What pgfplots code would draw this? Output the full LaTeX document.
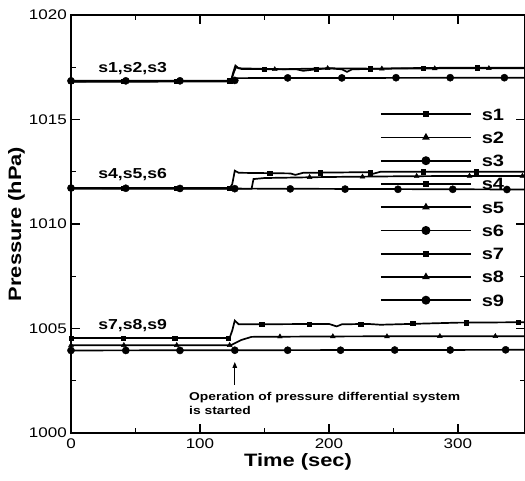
\documentclass[border=0pt]{standalone}
\usepackage{fontspec}
\setmainfont{Liberation Sans}[FakeStretch=1.22]
\usepackage{pgfplots}
\pgfplotsset{compat=1.18}
\usetikzlibrary{arrows.meta}
\begin{document}
\begin{tikzpicture}
\begin{axis}[
 scale only axis, width=454bp, height=418bp,
 xmin=0, xmax=352, ymin=1000, ymax=1020,
 xtick={0,100,200,300}, ytick={1000,1005,1010,1015,1020},
 minor x tick num=1, minor y tick num=1,
 tick align=inside,
 major tick length=9bp, minor tick length=5bp,
 every tick/.style={black, line width=1.2bp},
 axis line style={line width=1.7bp},
 /pgf/number format/assume math mode=true,
 /pgf/number format/1000 sep={},
 ticklabel style={font=\fontsize{14}{14}\selectfont, inner sep=0pt},
 yticklabel style={xshift=-4bp},
 xticklabel style={yshift=-6bp},
 every axis x label/.style={at={([yshift=-33bp]axis description cs:0.5,0)}, anchor=base, font=\fontsize{18}{18}\selectfont\bfseries},
 every axis y label/.style={at={([xshift=-46bp]axis description cs:0,0.5)}, rotate=90, anchor=south, inner sep=0pt, font=\fontsize{18}{18}\selectfont\bfseries},
 xlabel={Time (sec)}, ylabel={Pressure (hPa)},
 legend cell align=left,
 legend style={at={(axis cs:239.5,1015.55)}, anchor=north west, draw=none, fill=none, inner sep=0pt,
   row sep=11.25bp, column sep=10bp, font=\fontsize{16.5}{16.5}\selectfont\bfseries,
   nodes={inner sep=0pt, text height=12bp, text depth=0bp}},
 legend image code/.code={\draw[mark repeat=2,mark phase=2,#1] plot coordinates {(0bp,0bp) (45bp,0bp) (90bp,0bp)};},
 ln/.style={black, line width=1.7bp, mark=none, forget plot},
 sq/.style={black, only marks, mark=square*, mark size=2.2bp, forget plot},
 tr/.style={black, only marks, mark=triangle*, mark size=2.8bp, forget plot},
 ci/.style={black, only marks, mark=*, mark size=3.6bp, forget plot},
]
\coordinate (SW) at (rel axis cs:0,0);
\coordinate (NE) at (rel axis cs:1,1);
% ---- group 1: s1, s2, s3
\addplot[ln] coordinates {(0,1016.82) (124,1016.85) (126,1017.3) (127.5,1017.58) (130,1017.45) (150,1017.42) (175,1017.4) (180,1017.33) (190,1017.4) (200,1017.45) (210,1017.4) (214,1017.28) (218,1017.4) (250,1017.45) (300,1017.48) (352,1017.48)};
\addplot[sq] coordinates {(0,1016.82) (41,1016.83) (82,1016.84) (123,1016.85) (150,1017.42) (190,1017.4) (232,1017.43) (273,1017.46) (315,1017.48)};
\addplot[ln] coordinates {(0,1016.8) (124,1016.82) (126.5,1017.3) (128,1017.5) (132,1017.42) (160,1017.4) (199,1017.45) (240,1017.43) (300,1017.45) (352,1017.45)};
\addplot[tr] coordinates {(0,1016.8) (41,1016.8) (83,1016.81) (124,1016.82) (158,1017.4) (199,1017.45) (241,1017.43) (282,1017.44) (324,1017.45)};
\addplot[ln] coordinates {(0,1016.85) (126,1016.85) (129,1016.98) (352,1017.0)};
\addplot[ci] coordinates {(0,1016.85) (42.5,1016.85) (84.5,1016.85) (127,1016.87) (168,1016.99) (210,1016.99) (252,1017.0) (294,1017.0) (336,1017.0)};
% ---- group 2: s4, s5, s6
\addplot[ln] coordinates {(0,1011.72) (123,1011.72) (125,1011.9) (127,1012.55) (130,1012.45) (170,1012.42) (174,1012.35) (180,1012.45) (230,1012.48) (234,1012.4) (240,1012.5) (352,1012.5)};
\addplot[sq] coordinates {(0,1011.72) (41,1011.72) (82,1011.72) (123,1011.72) (154,1012.43) (193,1012.45) (232,1012.45) (273,1012.5) (314,1012.5)};
\addplot[ln] coordinates {(0,1011.68) (140,1011.68) (141.5,1012.15) (150,1012.2) (200,1012.25) (250,1012.28) (300,1012.3) (352,1012.3)};
\addplot[tr] coordinates {(0,1011.68) (41,1011.68) (83,1011.68) (124,1011.68) (185,1012.24) (226,1012.26) (268,1012.29) (309,1012.3) (350,1012.3)};
\addplot[ln] coordinates {(0,1011.72) (352,1011.65)};
\addplot[ci] coordinates {(0,1011.72) (42.5,1011.71) (84.5,1011.7) (127,1011.69) (170,1011.68) (212.5,1011.67) (253.5,1011.66) (296,1011.66) (338,1011.65)};
% ---- group 3: s7, s8, s9
\addplot[ln] coordinates {(0,1004.55) (123,1004.55) (125,1004.9) (127,1005.38) (130,1005.2) (140,1005.2) (200,1005.22) (206,1005.1) (210,1005.2) (230,1005.22) (240,1005.18) (300,1005.28) (352,1005.3)};
\addplot[sq] coordinates {(0,1004.55) (40.5,1004.55) (80.5,1004.55) (122,1004.55) (148,1005.2) (184.5,1005.21) (224.5,1005.22) (265,1005.24) (306.5,1005.28) (346.5,1005.3)};
\addplot[ln] coordinates {(0,1004.2) (124,1004.2) (132,1004.45) (140,1004.6) (200,1004.62) (260,1004.63) (352,1004.63)};
\addplot[tr] coordinates {(0,1004.2) (41,1004.2) (82,1004.2) (123,1004.2) (162,1004.61) (203,1004.62) (245,1004.62) (286,1004.63) (329,1004.63)};
\addplot[ln] coordinates {(0,1003.95) (352,1003.98)};
\addplot[ci] coordinates {(0,1003.95) (42.5,1003.95) (84.5,1003.95) (127,1003.96) (168,1003.96) (209,1003.96) (251,1003.97) (294,1003.97) (337,1003.98)};
% ---- legend
\addlegendimage{black, line width=1.7bp, mark=square*, mark size=2.2bp}\addlegendentry{s1}
\addlegendimage{black, line width=1.7bp, mark=triangle*, mark size=2.8bp}\addlegendentry{s2}
\addlegendimage{black, line width=1.7bp, mark=*, mark size=3.6bp}\addlegendentry{s3}
\addlegendimage{black, line width=1.7bp, mark=square*, mark size=2.2bp}\addlegendentry{s4}
\addlegendimage{black, line width=1.7bp, mark=triangle*, mark size=2.8bp}\addlegendentry{s5}
\addlegendimage{black, line width=1.7bp, mark=*, mark size=3.6bp}\addlegendentry{s6}
\addlegendimage{black, line width=1.7bp, mark=square*, mark size=2.2bp}\addlegendentry{s7}
\addlegendimage{black, line width=1.7bp, mark=triangle*, mark size=2.8bp}\addlegendentry{s8}
\addlegendimage{black, line width=1.7bp, mark=*, mark size=3.6bp}\addlegendentry{s9}
% ---- annotations
\node[anchor=base west, inner sep=0pt, font=\fontsize{14.5}{14.5}\selectfont\bfseries] at (axis cs:21,1017.27) {s1,s2,s3};
\node[anchor=base west, inner sep=0pt, font=\fontsize{14.5}{14.5}\selectfont\bfseries] at (axis cs:21,1012.2) {s4,s5,s6};
\node[anchor=base west, inner sep=0pt, font=\fontsize{14.5}{14.5}\selectfont\bfseries] at (axis cs:21,1004.93) {s7,s8,s9};
\draw[-{Triangle[length=6bp,width=4.5bp]}, line width=1.2bp] (axis cs:127,1002.3) -- (axis cs:127,1003.4);
\node[anchor=north west, align=left, inner sep=0pt, font=\fontsize{11.4}{14}\selectfont\bfseries] at (axis cs:91.5,1001.95) {Operation of pressure differential system\\is started};
\end{axis}
\pgfresetboundingbox
\path[use as bounding box] ([shift={(-71bp,-48bp)}]SW) rectangle ([shift={(0bp,15bp)}]NE);
\end{tikzpicture}
\end{document}
